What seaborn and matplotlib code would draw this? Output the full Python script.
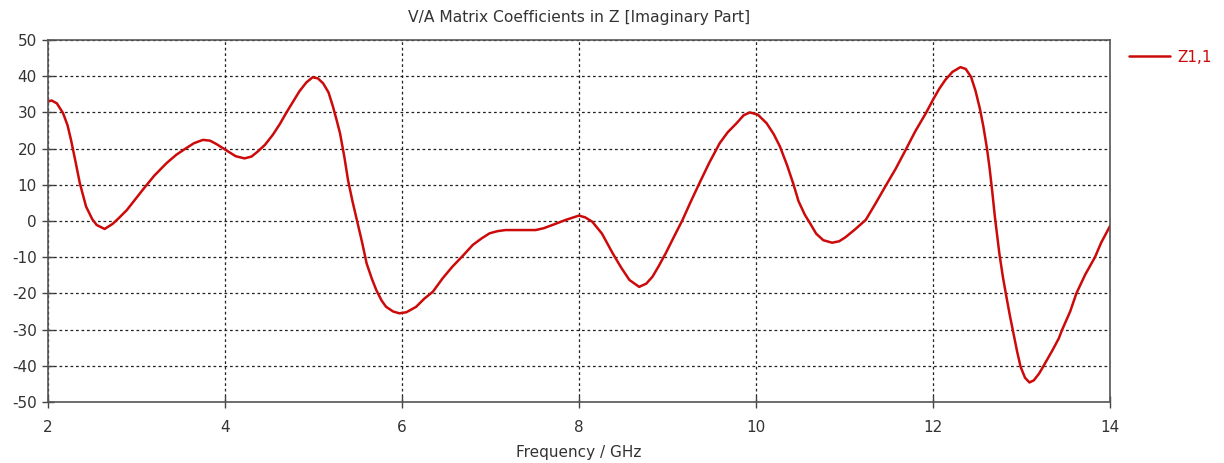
import matplotlib
matplotlib.use("Agg")
import matplotlib.pyplot as plt
import seaborn as sns
import pandas as pd

freq_ghz = [
    2.00, 2.04, 2.10, 2.17, 2.22, 2.26, 2.31, 2.36, 2.43, 2.50, 2.55, 2.64, 2.73, 2.80, 2.89, 2.98,
    3.07, 3.20, 3.34, 3.45, 3.56, 3.65, 3.75, 3.83, 3.90, 4.01, 4.12, 4.22, 4.30, 4.37, 4.45, 4.54,
    4.62, 4.69, 4.77, 4.84, 4.92, 4.99, 5.05, 5.11, 5.17, 5.22, 5.26, 5.30, 5.35, 5.39, 5.44, 5.49,
    5.55, 5.60, 5.66, 5.71, 5.77, 5.82, 5.90, 5.97, 6.05, 6.16, 6.25, 6.35, 6.46, 6.57, 6.68, 6.80,
    6.90, 6.99, 7.08, 7.17, 7.35, 7.51, 7.60, 7.70, 7.85, 8.00, 8.07, 8.15, 8.26, 8.38, 8.48, 8.57,
    8.68, 8.76, 8.83, 8.90, 8.98, 9.07, 9.17, 9.26, 9.36, 9.47, 9.59, 9.68, 9.78, 9.86, 9.93, 10.02,
    10.12, 10.20, 10.27, 10.35, 10.42, 10.48, 10.55, 10.61, 10.68, 10.76, 10.86, 10.94, 11.01, 11.12,
    11.24, 11.35, 11.46, 11.58, 11.69, 11.80, 11.92, 12.00, 12.07, 12.14, 12.22, 12.31, 12.37, 12.43,
    12.48, 12.53, 12.57, 12.61, 12.64, 12.67, 12.70, 12.75, 12.79, 12.83, 12.87, 12.91, 12.95, 12.99,
    13.04, 13.09, 13.14, 13.20, 13.25, 13.35, 13.42, 13.46, 13.55, 13.62, 13.72, 13.83, 13.90, 14.00,
]
z11_imag = [
    33.0, 33.3, 32.5, 29.8, 26.5, 22.4, 16.5, 10.4, 4.0, 0.5, -1.1, -2.2, -0.8, 0.8, 3.0, 5.8,
    8.6, 12.5, 16.0, 18.3, 20.1, 21.5, 22.4, 22.2, 21.3, 19.6, 17.9, 17.3, 17.8, 19.2, 21.0, 23.8,
    26.8, 29.8, 33.0, 35.8, 38.3, 39.7, 39.4, 38.0, 35.5, 31.6, 28.0, 24.2, 17.5, 11.3, 5.5, 0.3,
    -6.0, -11.7, -16.0, -19.1, -22.0, -23.7, -25.0, -25.5, -25.2, -23.7, -21.5, -19.5, -15.8, -12.6, -9.8, -6.6,
    -4.8, -3.4, -2.8, -2.5, -2.5, -2.5, -2.0, -1.1, 0.3, 1.5, 1.0, -0.2, -3.5, -8.9, -13.0, -16.3,
    -18.2, -17.3, -15.4, -12.5, -8.9, -4.5, 0.3, 5.2, 10.4, 16.0, 21.5, 24.5, 27.0, 29.2, 30.0, 29.4,
    27.0, 24.0, 20.6, 15.5, 10.4, 5.5, 1.8, -0.6, -3.5, -5.3, -6.0, -5.6, -4.5, -2.3,
    0.3, 4.8, 9.5, 14.5, 19.6, 24.8, 29.8, 33.5, 36.5, 39.0, 41.2, 42.5, 42.0, 39.8,
    36.0, 31.0, 26.0, 20.0, 14.5, 8.0, 1.0, -9.0, -15.5, -21.0, -26.3, -31.2, -36.0, -40.3,
    -43.3, -44.6, -44.0, -42.1, -40.0, -35.7, -32.5, -30.0, -25.0, -20.0, -14.8, -10.0, -6.0, -1.4,
]
series_label = "Z1,1"
x_ticks = [2, 4, 6, 8, 10, 12, 14]
y_ticks = [-50, -40, -30, -20, -10, 0, 10, 20, 30, 40, 50]
title_text = "V/A Matrix Coefficients in Z [Imaginary Part]"
xlabel_text = "Frequency / GHz"

sns.set_style("white")
plt.rcParams["font.family"] = ["DejaVu Sans"]

line_color = "#cc0a0a"
text_color = "#333333"

df = pd.DataFrame({"freq": freq_ghz, "z": z11_imag})

fig = plt.figure(figsize=(12.24, 4.63), dpi=100)
ax = fig.add_axes([48 / 1224, 1 - 402 / 463, (1110 - 48) / 1224, (402 - 40) / 463])

sns.lineplot(data=df, x="freq", y="z", color=line_color, linewidth=1.8,
             label=series_label, ax=ax, sort=False)

ax.set_xlim(2, 14)
ax.set_ylim(-50, 50)
ax.set_xticks(x_ticks)
ax.set_yticks(y_ticks)
ax.set_xticklabels([str(t) for t in x_ticks])
ax.set_yticklabels([str(t) for t in y_ticks])

ax.grid(True, color="#222222", linestyle=(0, (2.2, 2.2)), linewidth=0.9)
ax.set_axisbelow(True)
for sp in ax.spines.values():
    sp.set_color("#555555")
    sp.set_linewidth(1.2)

ax.tick_params(axis="both", which="major", direction="inout", length=8, width=1,
               color="#444444", labelsize=11, labelcolor=text_color,
               bottom=True, left=True, top=False, right=False)
ax.tick_params(axis="x", pad=9)
ax.tick_params(axis="y", pad=4)

ax.set_title(title_text, fontsize=11.2, color=text_color, pad=13)
ax.set_xlabel(xlabel_text, fontsize=11, color=text_color, labelpad=7)
ax.set_ylabel("")

leg = ax.legend(loc="upper left", bbox_to_anchor=(1.012, 0.99), frameon=False,
                handlelength=2.7, handletextpad=0.5, fontsize=11, borderaxespad=0)
for t in leg.get_texts():
    t.set_color(line_color)

fig.savefig("out.png", dpi=100, facecolor="white")
